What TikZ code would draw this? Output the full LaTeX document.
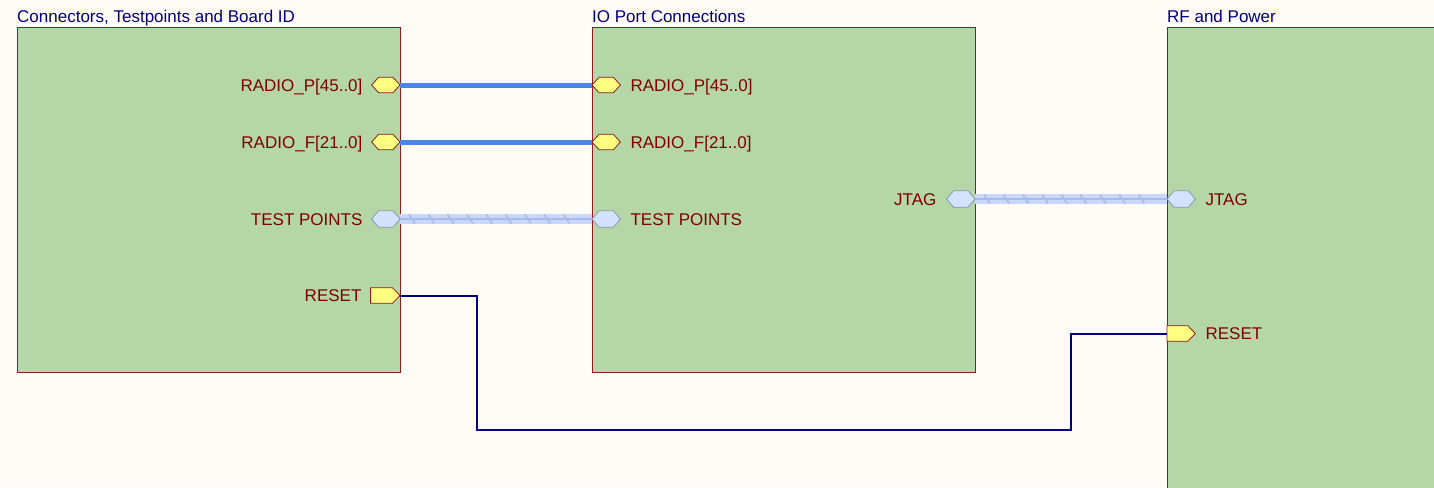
\documentclass[tikz,border=0pt]{standalone}
\usepackage{fontspec}
\setmainfont{Liberation Sans}
\usetikzlibrary{positioning,decorations.markings}

\definecolor{paper}{RGB}{255,252,247}
\definecolor{sheetgreen}{RGB}{181,214,167}
\definecolor{sheetred}{RGB}{140,30,30}
\definecolor{labelred}{RGB}{128,0,0}
\definecolor{titleblue}{RGB}{0,0,128}
\definecolor{portyellow}{RGB}{255,255,128}
\definecolor{busblue}{RGB}{74,134,232}
\definecolor{wirenavy}{RGB}{0,0,128}
\definecolor{harnesslight}{RGB}{201,215,250}
\definecolor{harnessdark}{RGB}{168,186,236}
\definecolor{harnessfill}{RGB}{211,226,255}
\definecolor{harnessedge}{RGB}{136,152,181}

\tikzset{
    sheet/.style={draw=sheetred, fill=sheetgreen, line width=1pt, anchor=north west, inner sep=0pt},
    sheettitle/.style={anchor=base west, inner sep=0pt, text=titleblue, font=\fontsize{17}{20}\selectfont},
    portlabel/.style={inner sep=0pt, text height=12.3pt, text depth=0pt, text=labelred, font=\fontsize{17}{20}\selectfont},
    entry/.style={inner sep=0pt, minimum width=28pt, minimum height=15pt},
    yellowentry/.style={draw=sheetred, fill=portyellow, line width=0.8pt, line join=miter},
    blueentry/.style={draw=harnessedge, fill=harnessfill, line width=0.8pt},
    bus/.style={draw=busblue, line width=5pt},
    wire/.style={draw=wirenavy, line width=2pt},
    harness/.style={draw=harnesslight, line width=10pt,
        postaction={draw=harnessdark, line width=2pt},
        postaction={decorate, decoration={markings,
            mark=between positions 12pt and -8pt step 19.3pt with {\draw[harnessdark, line width=1.6pt] (-3pt,4.5pt) -- (3pt,-4.5pt);}}}},
}

\begin{document}
\begin{tikzpicture}[x=1pt, y=-1pt]
    \useasboundingbox (0,0) rectangle (1434,487);
    \fill[paper] (0,0) rectangle (1434,487);
    \clip (0,0) rectangle (1434,487);

    % sheet symbols
    \node[sheet, minimum width=383pt, minimum height=345pt] (conn) at (17,27) {};
    \node[sheet, minimum width=383pt, minimum height=345pt] (io) at (592,27) {};
    \node[sheet, minimum width=300pt, minimum height=480pt] (rf) at (1167,27) {};

    \node[sheettitle] (conntitle) at (17,23) {Connectors, Testpoints and Board ID};
    \node[sheettitle] (iotitle) at (592,23) {IO Port Connections};
    \node[sheettitle] (rftitle) at (1167,23) {RF and Power};

    % sheet entries (placed against the sheet edges)
    \node[entry, anchor=east] (connradiop) at (400,85) {};
    \node[entry, anchor=east] (connradiof) at (400,142) {};
    \node[entry, anchor=east, minimum height=16pt] (conntest) at (400,219) {};
    \node[entry, anchor=east, minimum width=29pt] (connreset) at (400,295.5) {};

    \node[entry, anchor=west] (ioradiop) at (592,85) {};
    \node[entry, anchor=west] (ioradiof) at (592,142) {};
    \node[entry, anchor=west, minimum height=16pt] (iotest) at (592,219) {};
    \node[entry, anchor=east, minimum height=16pt] (iojtag) at (975,199) {};

    \node[entry, anchor=west, minimum height=16pt] (rfjtag) at (1167,199) {};
    \node[entry, anchor=west] (rfreset) at (1167,333.5) {};

    % entry outlines
    \foreach \e in {connradiop, connradiof, ioradiop, ioradiof}
        \filldraw[yellowentry] (\e.west) -- ([xshift=7pt]\e.north west) -- ([xshift=-7pt]\e.north east)
            -- (\e.east) -- ([xshift=-7pt]\e.south east) -- ([xshift=7pt]\e.south west) -- cycle;
    \foreach \e in {conntest, iotest, iojtag, rfjtag} {
        \fill[harnessedge, opacity=0.5, yshift=-2pt] (\e.west) -- ([xshift=7pt]\e.north west) -- ([xshift=-7pt]\e.north east)
            -- (\e.east) -- ([xshift=-7pt]\e.south east) -- ([xshift=7pt]\e.south west) -- cycle;
        \filldraw[blueentry] (\e.west) -- ([xshift=7pt]\e.north west) -- ([xshift=-7pt]\e.north east)
            -- (\e.east) -- ([xshift=-7pt]\e.south east) -- ([xshift=7pt]\e.south west) -- cycle;
    }
    \foreach \e in {connreset, rfreset}
        \filldraw[yellowentry] (\e.north west) -- ([xshift=-7.5pt]\e.north east) -- (\e.east)
            -- ([xshift=-7.5pt]\e.south east) -- (\e.south west) -- cycle;

    % entry labels
    \node[portlabel, left=9pt of connradiop] {RADIO\_P[45..0]};
    \node[portlabel, left=9pt of connradiof] {RADIO\_F[21..0]};
    \node[portlabel, left=9pt of conntest] {TEST POINTS};
    \node[portlabel, left=9pt of connreset] {RESET};
    \node[portlabel, right=10pt of ioradiop] {RADIO\_P[45..0]};
    \node[portlabel, right=10pt of ioradiof] {RADIO\_F[21..0]};
    \node[portlabel, right=10pt of iotest] {TEST POINTS};
    \node[portlabel, left=10pt of iojtag] {JTAG};
    \node[portlabel, right=10pt of rfjtag] {JTAG};
    \node[portlabel, right=10pt of rfreset] {RESET};

    % connections
    \draw[bus] (connradiop.east) -- (ioradiop.west);
    \draw[bus] (connradiof.east) -- (ioradiof.west);
    \draw[harness] (conntest.east) -- (iotest.west);
    \draw[harness] (iojtag.east) -- (rfjtag.west);

    \coordinate (resetdown) at (477,430);
    \coordinate (resetup) at (1071,430);
    \draw[wire] (connreset.east) -| (resetdown) -- (resetup) |- (rfreset.west);
\end{tikzpicture}
\end{document}
